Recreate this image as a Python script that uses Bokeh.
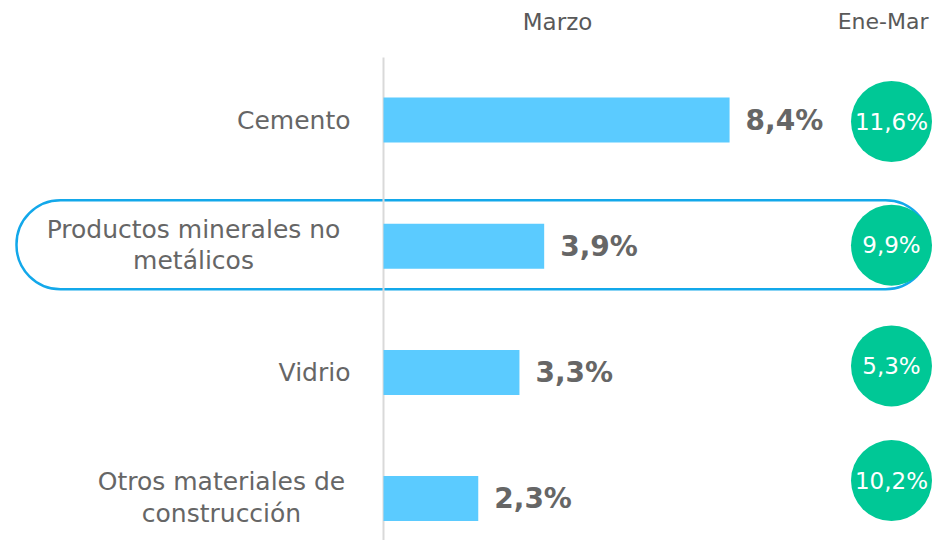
from bokeh.plotting import figure
from bokeh.models import Range1d
from bokeh.core.properties import value
from bokeh.embed import file_html
from bokeh.resources import INLINE

# ---- data ----
categories = ["Cemento", "Productos minerales no\nmetálicos", "Vidrio", "Otros materiales de\nconstrucción"]
marzo = [8.4, 3.9, 3.3, 2.3]
ene_mar = [11.6, 9.9, 5.3, 10.2]
marzo_labels = ["8,4%", "3,9%", "3,3%", "2,3%"]
ene_mar_labels = ["11,6%", "9,9%", "5,3%", "10,2%"]
headers = ["Marzo", "Ene-Mar"]
highlight = 1

# ---- layout (pixels inside the figure) ----
W, H = 932, 540
X0 = 383.0          # pixel of value 0
PX = 41.2           # pixels per percent unit
Y0 = 119.5          # pixel of first row centre
ROW = 126.2         # pixels per row

def xd(px):
    return (px - X0) / PX

def yd(py):
    return (py - Y0) / ROW

FONT = value("DejaVu Sans")
GREY = "#666666"

p = figure(width=W, height=H, output_backend="svg", toolbar_location=None,
           x_range=Range1d(xd(0), xd(W)), y_range=Range1d(yd(H), yd(0)),
           min_border=0, outline_line_color=None)
p.axis.visible = False
p.grid.visible = False
p.background_fill_color = "white"
p.border_fill_color = "white"

idx = list(range(len(categories)))

# highlight outline behind everything
p.quad(left=[xd(16)], right=[xd(929)], top=[highlight + yd(199) - yd(245)],
       bottom=[highlight + yd(288) - yd(245)],
       fill_alpha=0, line_color="#13A8EA", line_width=2.5, border_radius=44)

# vertical axis line
p.segment(x0=[0], y0=[yd(57)], x1=[0], y1=[yd(H + 5)], line_color="#d9d9d9", line_width=2)

# bars
p.hbar(y=idx, left=0, right=marzo, height=45 / ROW, fill_color="#5BCBFF", line_color=None)

# bar value labels
p.text(x=marzo, y=idx, text=marzo_labels, x_offset=16, text_align="left", text_baseline="middle",
       text_font=FONT, text_font_size="28px", text_font_style="bold", text_color=GREY)

# category labels
single_x, single_y, single_t = [], [], []
multi_x, multi_y, multi_t = [], [], []
block_centres = {1: 193, 3: 221}
for i, c in enumerate(categories):
    lines = c.split("\n")
    if len(lines) == 1:
        single_x.append(xd(350)); single_y.append(i); single_t.append(c)
    else:
        cx = xd(block_centres[i])
        n = len(lines)
        for k, ln in enumerate(lines):
            multi_x.append(cx)
            multi_y.append(i + ((k - (n - 1) / 2) * 31.5 - 1) / ROW)
            multi_t.append(ln)
p.text(x=single_x, y=single_y, text=single_t, text_align="right", text_baseline="middle",
       text_font=FONT, text_font_size="25px", text_color=GREY)
p.text(x=multi_x, y=multi_y, text=multi_t, text_align="center", text_baseline="middle",
       text_font=FONT, text_font_size="25px", text_color=GREY)

# Ene-Mar circles
circle_dy = [1.5, -1, -6.5, -18]
cy = [i + d / ROW for i, d in zip(idx, circle_dy)]
cx = [xd(891)] * len(idx)
p.scatter(x=cx, y=cy, size=81, marker="circle", fill_color="#00C896", line_color=None)
p.text(x=cx, y=cy, text=ene_mar_labels, text_align="center", text_baseline="middle",
       text_font=FONT, text_font_size="23px", text_color="white")

# headers
p.text(x=[xd(557)], y=[yd(21)], text=headers[:1], text_align="center",
       text_baseline="middle", text_font=FONT, text_font_size="23px", text_color="#595959")
p.text(x=[xd(928)], y=[yd(21)], text=headers[1:], text_align="right",
       text_baseline="middle", text_font=FONT, text_font_size="22px", text_color="#595959")

open("out.html", "w").write(file_html(p, INLINE))
